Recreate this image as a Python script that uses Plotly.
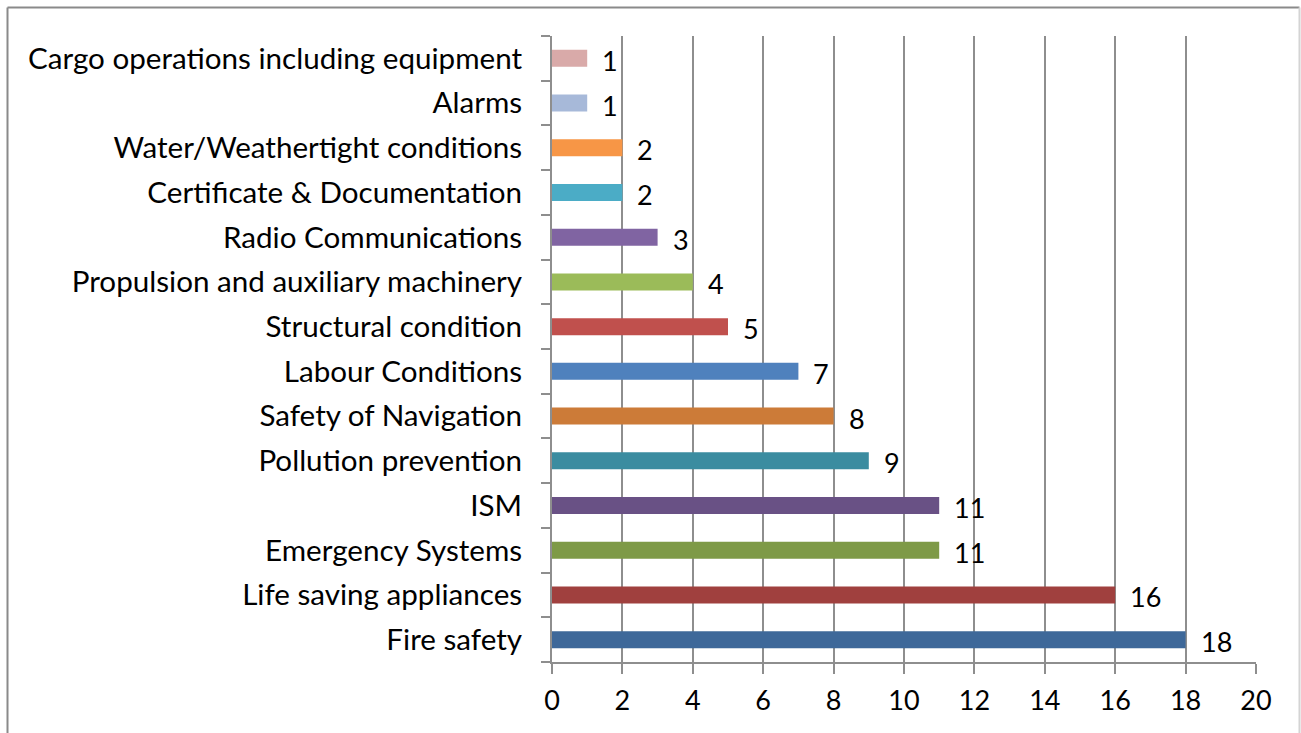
import plotly.graph_objects as go

categories = [
    "Fire safety",
    "Life saving appliances",
    "Emergency Systems",
    "ISM",
    "Pollution prevention",
    "Safety of Navigation",
    "Labour Conditions",
    "Structural condition",
    "Propulsion and auxiliary machinery",
    "Radio Communications",
    "Certificate & Documentation",
    "Water/Weathertight conditions",
    "Alarms",
    "Cargo operations including equipment",
]
values = [18, 16, 11, 11, 9, 8, 7, 5, 4, 3, 2, 2, 1, 1]
colors = [
    "#3E6899", "#A0403E", "#7E9A47", "#695185", "#3B8CA0", "#CC7B38",
    "#4F81BD", "#C0504D", "#9BBB59", "#8064A2", "#4BACC6", "#F79646",
    "#A7B9D9", "#D9AAA9",
]
x_ticks = list(range(0, 21, 2))

FONT = "Lato"
GRID = "#8E8E8E"

# desired plot area in page pixels
L, R, T, B = 552, 1256, 36, 662
W, H = 1301, 733
pw, ph = R - L, B - T

def px_x(p):
    return (p - L) / pw

def px_y(p):
    return (B - p) / ph

fig = go.Figure()
fig.add_trace(go.Bar(
    x=values, y=categories, orientation="h",
    marker=dict(color=colors, line=dict(width=0)),
    width=0.38, hoverinfo="x+y",
))

for c, v in zip(categories, values):
    fig.add_annotation(
        x=v, y=c, text=str(v), showarrow=False,
        xanchor="left", xshift=13, yshift=-2,
        font=dict(family=FONT, size=27, color="#000000"),
    )

# outer chart frame
frame = [
    (7.5, 7.5, 7.5, 760, "#8A8A8A"),       # left
    (7.5, 7.5, 1299.5, 7.5, "#8A8A8A"),    # top
    (1299.5, 7.5, 1299.5, 760, "#D4D4D4"),  # right (faint)
]
for x0, y0, x1, y1, col in frame:
    fig.add_shape(
        type="line", xref="paper", yref="paper",
        x0=px_x(x0), x1=px_x(x1), y0=px_y(y0), y1=px_y(y1),
        line=dict(color=col, width=2), layer="below",
    )

fig.update_layout(
    width=W, height=H,
    margin=dict(l=L, r=W - R, t=T, b=H - B, pad=0),
    paper_bgcolor="white", plot_bgcolor="white",
    showlegend=False,
    xaxis=dict(
        range=[0, 20], tickvals=x_ticks, ticktext=[str(t) for t in x_ticks],
        showgrid=True, gridcolor=GRID, gridwidth=2,
        zeroline=False, showline=True, linecolor=GRID, linewidth=2,
        ticks="outside", ticklen=10, tickwidth=2, tickcolor=GRID,
        tickfont=dict(family=FONT, size=27, color="#000000"),
        ticklabelstandoff=4,
        fixedrange=True,
    ),
    yaxis=dict(
        categoryorder="array", categoryarray=categories,
        range=[-0.5, len(categories) - 0.5],
        showgrid=False, zeroline=False,
        showline=True, linecolor=GRID, linewidth=2,
        ticks="outside", ticklen=9, tickwidth=2, tickcolor=GRID,
        tickson="boundaries",
        tickfont=dict(family=FONT, size=29.6, color="#000000"),
        ticklabelstandoff=22,
        fixedrange=True,
    ),
)

fig.write_html(
    "out.html",
    config={"displayModeBar": False},
    post_script="document.body.style.margin='0';document.body.style.overflow='hidden';",
)
